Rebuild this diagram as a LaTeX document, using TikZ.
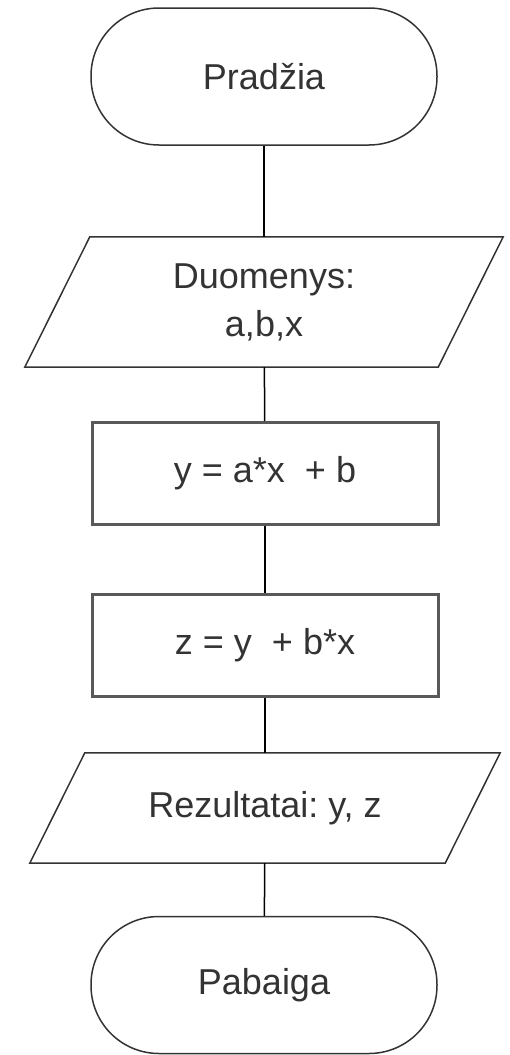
\documentclass[tikz,border=0pt]{standalone}
\usepackage{fontspec}
\setmainfont{Liberation Sans}
\frenchspacing

\begin{document}
\begin{tikzpicture}[x=1pt, y=-1pt,
    font=\fontsize{36}{48}\selectfont, text=black!80,
    terminal/.style={draw=black!80, line width=1.5pt, rounded corners=68pt,
        minimum width=346pt, minimum height=137pt, inner sep=0pt},
    iobox/.style={rectangle, inner sep=0pt, align=center},
    ioline/.style={draw=black!80, line width=1.5pt, line join=miter},
    procbox/.style={draw=black!65, line width=3pt,
        minimum width=346pt, minimum height=102pt, inner sep=0pt},
    link/.style={line width=1.5pt, black}]
    \useasboundingbox (0,0) rectangle (510,1055);

    \node[terminal] (start) at (264,76.5) {Pradžia};
    \node[iobox, minimum width=478pt, minimum height=130pt] (input) at (264,302) {Duomenys:\\a,b,x};
    \node[procbox] (stepy) at (265,473.5) {y = a*x \ + b};
    \node[procbox] (stepz) at (265,645.5) {z = y \ + b*x};
    \node[iobox, minimum width=470pt, minimum height=110pt] (output) at (265,808) {Rezultatai: y, z};
    \node[terminal] (stop) at (264,985) {Pabaiga};

    % parallelograms for input and output
    \draw[ioline] ([xshift=65pt]input.north west) -- (input.north east)
        -- ([xshift=-65pt]input.south east) -- (input.south west) -- cycle;
    \draw[ioline] ([xshift=55pt]output.north west) -- (output.north east)
        -- ([xshift=-55pt]output.south east) -- (output.south west) -- cycle;

    \draw[link] (start) -- (input);
    \draw[link] (input) -- (stepy);
    \draw[link] (stepy) -- (stepz);
    \draw[link] (stepz) -- (output);
    \draw[link] (output) -- (stop);
\end{tikzpicture}
\end{document}
